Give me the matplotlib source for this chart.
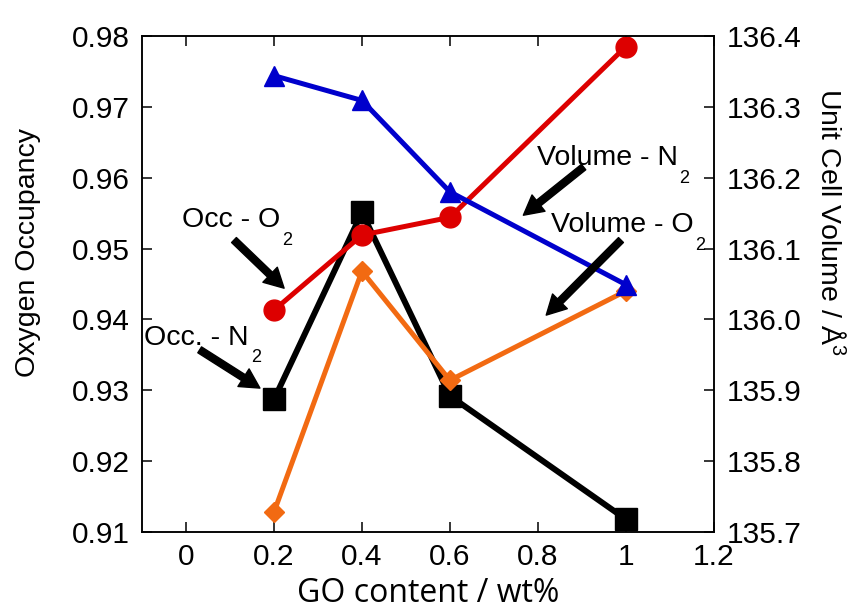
import matplotlib
matplotlib.use("Agg")
import matplotlib.pyplot as plt

plt.rcParams['font.family'] = ['Liberation Sans', 'DejaVu Sans']
plt.rcParams['mathtext.fontset'] = 'custom'
plt.rcParams['mathtext.rm'] = 'Liberation Sans'

go = [0.2, 0.4, 0.6, 1.0]
occ_n2 = [0.9287, 0.9551, 0.9292, 0.9118]
occ_o2 = [0.9413, 0.9519, 0.9544, 0.9785]
vol_n2 = [136.344, 136.309, 136.180, 136.049]
vol_o2 = [135.728, 136.068, 135.914, 136.040]

xticks = [0, 0.2, 0.4, 0.6, 0.8, 1.0, 1.2]
xticklabels = ['0', '0.2', '0.4', '0.6', '0.8', '1', '1.2']
yticks_l = [0.91, 0.92, 0.93, 0.94, 0.95, 0.96, 0.97, 0.98]
yticks_r = [135.7, 135.8, 135.9, 136.0, 136.1, 136.2, 136.3, 136.4]

fig = plt.figure(figsize=(8.61, 6.10), dpi=100)
ax1 = fig.add_axes([0.165, 0.128, 0.664, 0.813])
ax2 = ax1.twinx()

ax1.plot(go, occ_n2, color='black', lw=4.3, marker='s', ms=16)
ax1.plot(go, occ_o2, color='#dd0000', lw=3.6, marker='o', ms=15)
ax2.plot(go, vol_o2, color='#f26a12', lw=3.6, marker='D', ms=10)
ax2.plot(go, vol_n2, color='#0000cc', lw=3.6, marker='^', ms=15)

ax1.set_xlim(-0.1, 1.2)
ax1.set_ylim(0.91, 0.98)
ax2.set_ylim(135.7, 136.4)
ax1.set_xticks(xticks)
ax1.set_xticklabels(xticklabels)
ax1.set_yticks(yticks_l)
ax1.set_yticklabels(['%.2f' % v for v in yticks_l])
ax2.set_yticks(yticks_r)
ax2.set_yticklabels(['%.1f' % v for v in yticks_r])

ax1.tick_params(axis='both', direction='in', length=7, width=1.1, labelsize=21.5, pad=9)
ax1.tick_params(axis='x', top=True, pad=8)
ax2.tick_params(axis='y', direction='in', length=7, width=1.1, labelsize=21.5, pad=9)
for ax in (ax1, ax2):
    for s in ax.spines.values():
        s.set_linewidth(1.1)

ax1.set_xlabel('GO content / wt%', fontsize=23, family=['Open Sans', 'DejaVu Sans'], labelpad=4)
ax1.set_ylabel('Oxygen Occupancy', fontsize=20.5)
ax1.yaxis.set_label_coords(-0.176, 0.5625)
ax2.set_ylabel('Unit Cell Volume / Å$^3$', fontsize=20.5, rotation=270, va='bottom')
ax2.yaxis.set_label_coords(1.175, 0.625)

labels = [
    ('Occ - O', (-0.010, 0.9530), (0.109, 0.9512), (0.223, 0.9444)),
    ('Occ. - N', (-0.095, 0.9364), (0.031, 0.9357), (0.168, 0.9303)),
    ('Volume - N', (0.797, 0.9618), (0.904, 0.9615), (0.767, 0.9547)),
    ('Volume - O', (0.829, 0.9523), (0.989, 0.9512), (0.819, 0.9406)),
]
for txt, pos, tail, tip in labels:
    t = ax2.text(pos[0], pos[1], txt, transform=ax1.transData, fontsize=20.5,
                 ha='left', va='baseline')
    ax2.annotate('2', xy=(1, 0), xycoords=t, xytext=(1.5, 1),
                 textcoords='offset points', fontsize=13, ha='left', va='top')
    ax2.annotate('', xy=tip, xycoords=ax1.transData, xytext=tail,
                 textcoords=ax1.transData,
                 arrowprops=dict(facecolor='black', edgecolor='black',
                                 width=5, headwidth=15, headlength=14, shrink=0))

fig.savefig('out.png', dpi=100)
